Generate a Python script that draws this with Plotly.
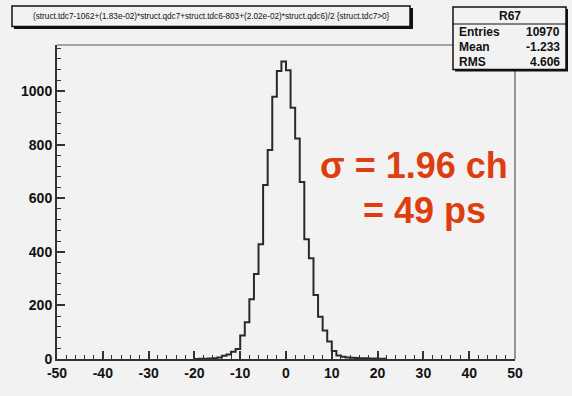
import plotly.graph_objects as go

# ---- data ----
bin_low_edges = list(range(-20, 22))          # left edge of each 1-unit bin
bin_counts = [0, 1, 1, 2, 3, 6, 12, 17, 27, 37, 88, 137, 223, 317, 428, 649, 780,
              979, 1075, 1110, 1078, 938, 823, 661, 447, 376, 239, 158, 106, 65,
              30, 13, 8, 6, 5, 4, 3, 3, 2, 2, 1, 1]
x_tick_vals = [-50, -40, -30, -20, -10, 0, 10, 20, 30, 40, 50]
x_tick_text = ["-50", "-40", "-30", "-20", "-10", "0", "10", "20", "30", "40", "50"]
y_tick_vals = [0, 200, 400, 600, 800, 1000]
y_tick_text = ["0", "200", "400", "600", "800", "1000"]

title_text = "(struct.tdc7-1062+(1.83e-02)*struct.qdc7+struct.tdc6-803+(2.02e-02)*struct.qdc6)/2 {struct.tdc7>0}"
stats_name = "R67"
stats_labels = ["Entries", "Mean", "RMS"]
stats_values = ["10970", "-1.233", "4.606"]
note_line1 = "σ = 1.96 ch"
note_line2 = "= 49 ps"

# ---- geometry ----
W, H = 572, 396
L, R, T, B = 57, 515, 45, 359
PW, PH = R - L, B - T


def px(x):
    return (x - L) / PW


def py(y):
    return (B - y) / PH


BG = "#f2f2f2"
FONT = "Liberation Sans, Arial, sans-serif"

xs = bin_low_edges + [bin_low_edges[-1] + 1]
ys = bin_counts + [bin_counts[-1]]

fig = go.Figure()
fig.add_trace(go.Scatter(
    x=xs, y=ys, mode="lines", line=dict(shape="hv", color="#2a2a2a", width=2),
    hoverinfo="skip", showlegend=False))

fig.update_layout(
    width=W, height=H,
    margin=dict(l=L, r=W - R, t=T, b=H - B, pad=0),
    paper_bgcolor=BG, plot_bgcolor=BG,
    font=dict(family=FONT, size=14, color="#111111"),
    showlegend=False,
)
fig.update_xaxes(
    range=[-50, 50], tickvals=x_tick_vals, ticktext=x_tick_text,
    ticks="inside", ticklen=8, tickcolor="#333333", tickwidth=1.5,
    minor=dict(dtick=2, ticks="inside", ticklen=4, tickcolor="#333333", tickwidth=1.2),
    showgrid=False, zeroline=False, showline=True, linecolor="#333333", linewidth=2,
    tickfont=dict(family=FONT, size=14, color="#111111", weight="bold"),
)
fig.update_yaxes(
    range=[0, 1172], tickvals=y_tick_vals, ticktext=y_tick_text,
    ticks="inside", ticklen=8, tickcolor="#333333", tickwidth=1.5,
    minor=dict(dtick=40, ticks="inside", ticklen=4, tickcolor="#333333", tickwidth=1.2),
    showgrid=False, zeroline=False, showline=True, linecolor="#333333", linewidth=2,
    tickfont=dict(family=FONT, size=14, color="#111111", weight="bold"),
)

shapes = []
# plot frame (top/right)
shapes.append(dict(type="line", xref="paper", yref="paper", x0=0, x1=1, y0=1, y1=1,
                   line=dict(color="#555555", width=1)))
shapes.append(dict(type="line", xref="paper", yref="paper", x0=1, x1=1, y0=0, y1=1,
                   line=dict(color="#777777", width=1.5)))
# title box with shadow
shapes.append(dict(type="rect", xref="paper", yref="paper", x0=px(14), x1=px(413),
                   y0=py(29), y1=py(8), fillcolor="#111111", line=dict(width=0)))
shapes.append(dict(type="rect", xref="paper", yref="paper", x0=px(12), x1=px(410),
                   y0=py(26.5), y1=py(6), fillcolor=BG, line=dict(color="#111111", width=1.5)))
# stats box with shadow
shapes.append(dict(type="rect", xref="paper", yref="paper", x0=px(455), x1=px(568),
                   y0=py(71.5), y1=py(9), fillcolor="#111111", line=dict(width=0)))
shapes.append(dict(type="rect", xref="paper", yref="paper", x0=px(453), x1=px(566),
                   y0=py(69.5), y1=py(7), fillcolor=BG, line=dict(color="#111111", width=1.5)))
shapes.append(dict(type="line", xref="paper", yref="paper", x0=px(453), x1=px(566),
                   y0=py(24), y1=py(24), line=dict(color="#111111", width=1.2)))
fig.update_layout(shapes=shapes)

ann = []
ann.append(dict(xref="paper", yref="paper", x=px(211), y=py(16.5), text=title_text,
                showarrow=False, xanchor="center", yanchor="middle",
                font=dict(family=FONT, size=8.2, color="#111111")))
ann.append(dict(xref="paper", yref="paper", x=px(509.5), y=py(15.5), text=stats_name,
                showarrow=False, xanchor="center", yanchor="middle",
                font=dict(family=FONT, size=12, color="#111111", weight="bold")))
row_y = [32, 47, 62]
for lab, val, yy in zip(stats_labels, stats_values, row_y):
    ann.append(dict(xref="paper", yref="paper", x=px(457), y=py(yy), text=lab,
                    showarrow=False, xanchor="left", yanchor="middle",
                    font=dict(family=FONT, size=12, color="#111111", weight="bold")))
    ann.append(dict(xref="paper", yref="paper", x=px(562), y=py(yy), text=val,
                    showarrow=False, xanchor="right", yanchor="middle",
                    font=dict(family=FONT, size=12, color="#111111", weight="bold")))
RED = "#de3e0e"
ann.append(dict(xref="paper", yref="paper", x=px(414), y=py(165), text=note_line1,
                showarrow=False, xanchor="center", yanchor="middle",
                font=dict(family=FONT, size=36, color=RED, weight="bold")))
ann.append(dict(xref="paper", yref="paper", x=px(424), y=py(210), text=note_line2,
                showarrow=False, xanchor="center", yanchor="middle",
                font=dict(family=FONT, size=36, color=RED, weight="bold")))
fig.update_layout(annotations=ann)

fig.write_html("out.html", config={"displayModeBar": False},
               post_script="document.body.style.margin='0';document.body.style.background='#f2f2f2';")
